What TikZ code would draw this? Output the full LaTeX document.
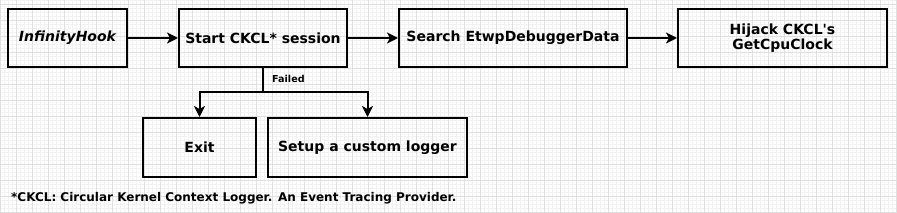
\documentclass[tikz,border=0pt]{standalone}
\usepackage{fontspec}
\setmainfont{DejaVu Sans}[Ligatures=TeXOff]
\usetikzlibrary{arrows.meta}

\begin{document}
\begin{tikzpicture}[x=1pt, y=-1pt,
    stepbox/.style={draw, line width=2pt, minimum height=58pt, inner sep=0pt,
        align=center, font=\bfseries\fontsize{14}{15.5}\selectfont},
    flow/.style={line width=2pt, -{Stealth[length=11pt, width=11pt, inset=3pt]}},
    majorgrid/.style={draw=black!12, line width=0.6pt},
    minorgrid/.style={draw=black!5, line width=0.5pt}]
    \useasboundingbox (0,0) rectangle (897,213);
    % background grid
    \foreach \gx in {0,4,...,896} \draw[minorgrid] (\gx,0) -- (\gx,213);
    \foreach \gy in {0,4,...,212} \draw[minorgrid] (0,\gy) -- (897,\gy);
    \foreach \gx in {0,16,...,896} \draw[majorgrid] (\gx,0) -- (\gx,213);
    \foreach \gy in {4,20,...,212} \draw[majorgrid] (0,\gy) -- (897,\gy);

    \node[stepbox, minimum width=119pt] (hook) at (67.5,38) {\itshape InfinityHook};
    \node[stepbox, minimum width=168pt] (ckcl) at (263,38) {Start CKCL* session};
    \node[stepbox, minimum width=228pt] (search) at (513,38) {Search EtwpDebuggerData};
    \node[stepbox, minimum width=209pt] (hijack) at (782.5,38) {Hijack CKCL's\\GetCpuClock};
    \node[stepbox, minimum width=113pt, minimum height=59pt] (exit) at (199.5,147.5) {Exit};
    \node[stepbox, minimum width=199pt, minimum height=59pt] (logger) at (367.5,147.5) {Setup a custom logger};
    \coordinate (fork) at (263,92);
    \node[anchor=west, inner sep=0pt, font=\bfseries\fontsize{9.6}{11}\selectfont] (failed) at (272,79) {Failed};
    \node[anchor=west, inner sep=0pt, font=\bfseries\fontsize{12}{14}\selectfont] (note) at (11,198) {*CKCL: Circular Kernel Context Logger. An Event Tracing Provider.};

    \draw[flow] (hook) -- (ckcl);
    \draw[flow] (ckcl) -- (search);
    \draw[flow] (search) -- (hijack);
    \draw[line width=2pt] (ckcl.south) -- (fork);
    \draw[flow] (fork) -| (exit.north);
    \draw[flow] (fork) -| (logger.north);
\end{tikzpicture}
\end{document}
